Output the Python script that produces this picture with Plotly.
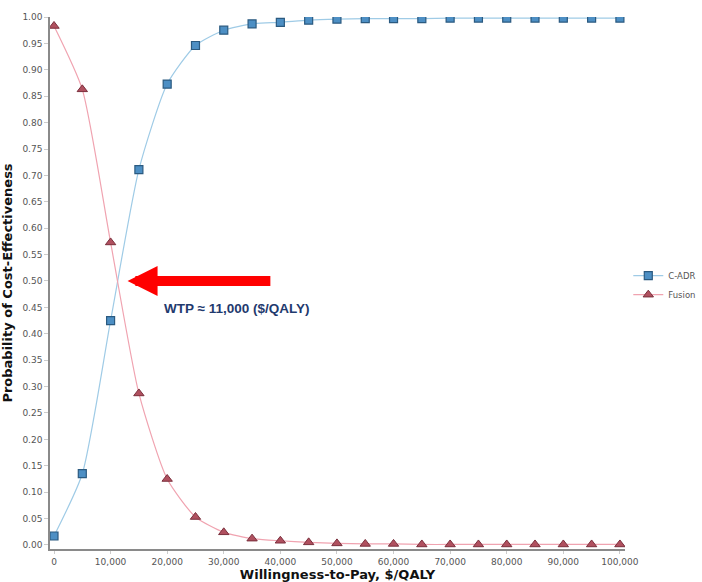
import plotly.graph_objects as go

wtp = [0, 5000, 10000, 15000, 20000, 25000, 30000, 35000, 40000, 45000, 50000,
       55000, 60000, 65000, 70000, 75000, 80000, 85000, 90000, 95000, 100000]
c_adr = [0.017, 0.135, 0.425, 0.711, 0.873, 0.946, 0.975, 0.987, 0.990, 0.994, 0.996,
         0.997, 0.997, 0.997, 0.998, 0.998, 0.998, 0.998, 0.998, 0.998, 0.998]
fusion = [0.983, 0.863, 0.573, 0.287, 0.125, 0.053, 0.024, 0.012, 0.008, 0.005, 0.003,
          0.002, 0.002, 0.001, 0.001, 0.001, 0.001, 0.001, 0.001, 0.001, 0.001]
y_ticks = [round(i * 0.05, 2) for i in range(21)]
x_ticks = list(range(0, 100001, 10000))
arrow_tip = (13000, 0.50)
arrow_tail = (38500, 0.50)
label_pos = (32200, 0.447)
label_text = "<b>WTP ≈ 11,000 ($/QALY)</b>"

fig = go.Figure()
fig.add_trace(go.Scatter(
    x=wtp, y=c_adr, name="C-ADR", mode="lines+markers",
    line=dict(color="#9fcbe6", width=1.2, shape="spline", smoothing=0.6),
    marker=dict(symbol="square", size=8, color="#4d8fc4",
                line=dict(color="#2b5a80", width=1.2)),
))
fig.add_trace(go.Scatter(
    x=wtp, y=fusion, name="Fusion", mode="lines+markers",
    line=dict(color="#f0a3b0", width=1.2, shape="spline", smoothing=0.6),
    marker=dict(symbol="triangle-up", size=9, color="#b0505f",
                line=dict(color="#7a2f3c", width=1)),
))

fig.add_annotation(
    x=arrow_tip[0], y=arrow_tip[1], ax=arrow_tail[0], ay=arrow_tail[1],
    xref="x", yref="y", axref="x", ayref="y",
    text="", showarrow=True, arrowhead=2, arrowsize=0.6, arrowwidth=10,
    arrowcolor="#ff0000",
)
fig.add_annotation(
    x=label_pos[0], y=label_pos[1], xref="x", yref="y", text=label_text,
    showarrow=False,
    font=dict(family="Liberation Sans, Arial, sans-serif", size=13.5, color="#1f3a6e"),
)

tick_font = dict(family="DejaVu Sans, Verdana, sans-serif", size=9, color="#555555")
title_font = dict(family="DejaVu Sans, Verdana, sans-serif", size=13, color="#111111")

fig.update_layout(
    width=702, height=582,
    margin=dict(l=50, r=77, t=17, b=33),
    paper_bgcolor="white", plot_bgcolor="white",
    showlegend=True,
    legend=dict(xref="container", x=0.895, yref="container", y=0.51,
                xanchor="left", yanchor="middle",
                font=dict(family="DejaVu Sans, Verdana, sans-serif", size=8.5, color="#555555"),
                itemwidth=30, tracegroupgap=0, bgcolor="rgba(0,0,0,0)"),
    xaxis=dict(
        range=[-707, 100900], tickvals=x_ticks,
        ticktext=[f"{v:,}" for v in x_ticks], automargin=False,
        showgrid=False, zeroline=False, showline=True, linecolor="#8a8a8a", linewidth=1.5,
        ticks="outside", ticklen=3, tickcolor="#cccccc", tickfont=tick_font,
        title=dict(text="<b>Willingness-to-Pay, $/QALY</b>", font=title_font),
    ),
    yaxis=dict(
        range=[-0.0076, 1.0], tickvals=y_ticks,
        ticktext=[f"{v:.2f}" for v in y_ticks], automargin=False,
        showgrid=False, zeroline=False, showline=True, linecolor="#8a8a8a", linewidth=1.5,
        ticks="outside", ticklen=4, tickcolor="#cccccc", tickfont=tick_font,
        title=dict(text="<b>Probability of Cost-Effectiveness</b>", font=title_font),
    ),
)

fig.write_html("out.html", config={"displayModeBar": False},
               post_script="document.body.style.margin='0';")
